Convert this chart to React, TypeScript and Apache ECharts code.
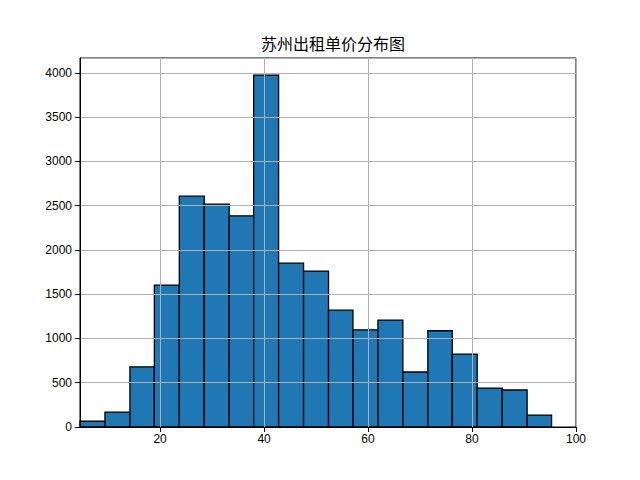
import React, { useEffect, useRef } from "react";
import * as echarts from "echarts";

const title = "苏州出租单价分布图";
const binEdges = [4.6, 9.4, 14.2, 18.9, 23.7, 28.5, 33.3, 38.0, 42.8, 47.6, 52.4, 57.1, 61.9, 66.7, 71.5, 76.2, 81.0, 85.8, 90.6, 95.3];
const counts = [65, 169, 680, 1603, 2607, 2517, 2385, 3975, 1851, 1761, 1320, 1098, 1208, 621, 1087, 824, 440, 418, 135];
const xTicks = [20, 40, 60, 80, 100];

export default function App() {
  const ref = useRef<HTMLDivElement>(null);
  useEffect(() => {
    document.body.style.margin = "0";
    const chart = echarts.init(ref.current!, null, { renderer: "svg" });
    const data = counts.map((c, i) => [binEdges[i], binEdges[i + 1], c]);
    const font = "Liberation Sans, Noto Sans CJK SC, sans-serif";
    chart.setOption({
      animation: false,
      backgroundColor: "#ffffff",
      title: {
        text: title,
        left: 328,
        top: 30,
        textAlign: "center",
        textStyle: { fontFamily: "Noto Sans CJK SC", fontSize: 16, fontWeight: "normal", color: "#000" },
      },
      grid: { left: 80, right: 64, top: 58, bottom: 53, show: true, borderColor: "#000", borderWidth: 1, backgroundColor: "transparent" },
      xAxis: {
        type: "value",
        min: 4.6,
        max: 100,
        z: 5,
        axisLine: { show: true, lineStyle: { color: "#000", width: 1 } },
        axisTick: { show: true, inside: false, length: 5, lineStyle: { color: "#000" },
          customValues: xTicks },
        axisLabel: { margin: 6, color: "#000", fontSize: 12, fontFamily: font,
          customValues: xTicks, formatter: (v: number) => String(v) },
        splitLine: { show: true, lineStyle: { color: "#b0b0b0", width: 1 } },
      },
      yAxis: {
        type: "value",
        min: 0,
        max: 4168,
        interval: 500,
        z: 5,
        axisLine: { show: true, lineStyle: { color: "#000", width: 1 } },
        axisTick: { show: true, inside: false, length: 5, lineStyle: { color: "#000" } },
        axisLabel: { margin: 8, color: "#000", fontSize: 12, fontFamily: font, showMaxLabel: false,
          formatter: (v: number) => String(v) },
        splitLine: { show: true, lineStyle: { color: "#b0b0b0", width: 1 } },
      },
      series: [
        {
          type: "custom",
          z: 2,
          encode: { x: [0, 1], y: 2 },
          data,
          renderItem: (params: any, api: any) => {
            const p0 = api.coord([api.value(0), api.value(2)]);
            const p1 = api.coord([api.value(1), 0]);
            return {
              type: "rect",
              shape: { x: p0[0], y: p0[1], width: p1[0] - p0[0], height: p1[1] - p0[1] },
              style: { fill: "#1f77b4", stroke: "#000", lineWidth: 1.3 },
            };
          },
        },
      ],
    });
    return () => chart.dispose();
  }, []);
  return <div ref={ref} style={{ width: 640, height: 480 }} />;
}
